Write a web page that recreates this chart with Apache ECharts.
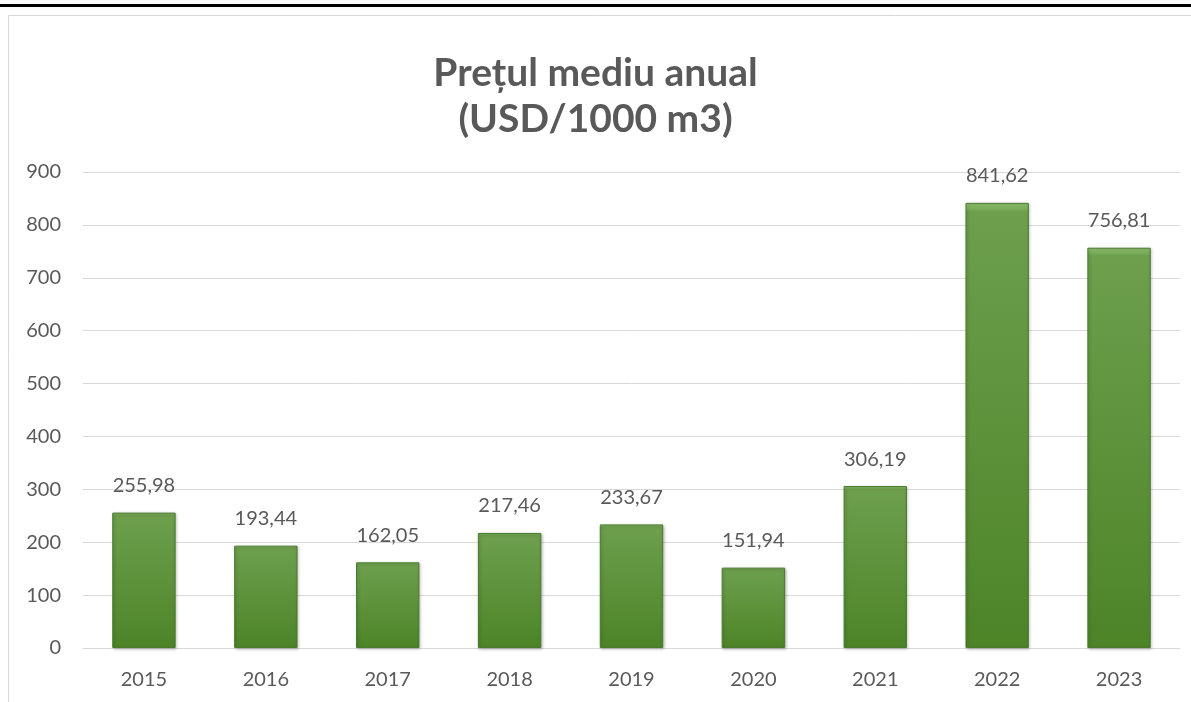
<!DOCTYPE html>
<html>
<head>
<meta charset="utf-8">
<script src="https://cdn.jsdelivr.net/npm/echarts@6/dist/echarts.min.js"></script>
<style>
  html, body { margin: 0; padding: 0; background: #fff; }
  #chart { width: 1191px; height: 702px; }
</style>
</head>
<body>
<div id="chart"></div>
<script>
var years = ['2015', '2016', '2017', '2018', '2019', '2020', '2021', '2022', '2023'];
var prices = [255.98, 193.44, 162.05, 217.46, 233.67, 151.94, 306.19, 841.62, 756.81];
var yTicks = [0, 100, 200, 300, 400, 500, 600, 700, 800, 900];

var textColor = '#595959';
var font = 'Lato, "Open Sans", sans-serif';

var chart = echarts.init(document.getElementById('chart'));
var option = {
    backgroundColor: '#fff',
    animation: false,
    title: {
        text: 'Prețul mediu anual\n(USD/1000 m3)',
        left: 'center',
        top: 45,
        textStyle: {
            fontFamily: font,
            fontWeight: 'bold',
            fontSize: 39,
            lineHeight: 46,
            color: textColor
        }
    },
    graphic: [
        // black rule at top of page
        { type: 'rect', shape: { x: 0, y: 4, width: 1191, height: 3 }, style: { fill: '#000' } },
        // chart frame
        { type: 'polyline', shape: { points: [[8.5, 702], [8.5, 15.5], [1191, 15.5]] },
          style: { stroke: '#d9d9d9', lineWidth: 1, fill: null } }
    ],
    grid: { left: 83, right: 11, top: 172, bottom: 54 },
    xAxis: {
        type: 'category',
        data: years,
        axisLine: { lineStyle: { color: '#d9d9d9', width: 1 } },
        axisTick: { show: false },
        axisLabel: { color: textColor, fontFamily: font, fontSize: 20, margin: 22 }
    },
    yAxis: {
        type: 'value',
        min: yTicks[0],
        max: yTicks[yTicks.length - 1],
        interval: 100,
        splitLine: { lineStyle: { color: '#d9d9d9', width: 1 } },
        axisLine: { show: false },
        axisTick: { show: false },
        axisLabel: { color: textColor, fontFamily: font, fontSize: 20, margin: 22 }
    },
    series: [{
        type: 'bar',
        data: prices,
        barWidth: '52%',
        itemStyle: {
            color: new echarts.graphic.LinearGradient(0, 0, 0, 1, [
                { offset: 0, color: '#92c56f' },
                { offset: 0.02, color: '#6d9f4d' },
                { offset: 1, color: '#4d8428' }
            ]),
            borderColor: '#4a7a2e',
            borderWidth: 1,
            shadowColor: 'rgba(0,0,0,0.25)',
            shadowBlur: 3,
            shadowOffsetX: 1,
            shadowOffsetY: 1
        },
        label: {
            show: true,
            position: 'top',
            distance: 17,
            color: textColor,
            fontFamily: font,
            fontSize: 20,
            formatter: function (p) { return p.value.toFixed(2).replace('.', ','); }
        }
    }]
};
chart.setOption(option);
</script>
</body>
</html>
